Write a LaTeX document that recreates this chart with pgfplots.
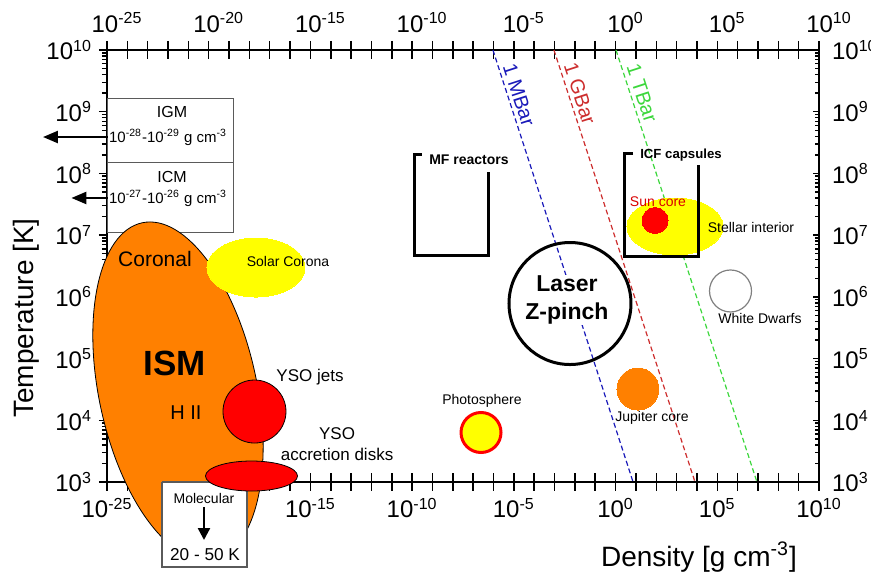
\documentclass[border=0pt]{standalone}
\usepackage{pgfplots}
\pgfplotsset{compat=1.18}
\usepackage{fontspec}
\setmainfont{Liberation Sans}
\setsansfont{Liberation Sans}
\usetikzlibrary{arrows.meta}

\definecolor{ismorange}{RGB}{255,128,0}
\definecolor{sunyellow}{RGB}{255,255,0}
\definecolor{hotred}{RGB}{255,0,0}
\definecolor{mbarblue}{RGB}{25,25,185}
\definecolor{gbarred}{RGB}{205,45,45}
\definecolor{tbargreen}{RGB}{60,215,60}
\definecolor{boxgray}{RGB}{90,90,90}

\newcommand\tp[1]{10\textsuperscript{#1}}
\newcommand\fs[1]{\fontsize{#1}{1.2\dimexpr#1pt\relax}\selectfont}

\pgfplotsset{
  densframe/.style={
    xmin=1e-25, xmax=1e10, ymin=1e3, ymax=1e10,
    scale only axis, width=356pt, height=216pt,
    at={(0,0)}, anchor=south west,
    axis line style={line width=0.8pt},
    tick style={black, line width=0.75pt},
    ticklabel style={font=\fs{12}},
  },
  xdec/.style={
    xtick={1e-25,1e-20,1e-15,1e-10,1e-5,1,1e5,1e10},
    xticklabels={\tp{-25},\tp{-20},\tp{-15},\tp{-10},\tp{-5},\tp{0},\tp{5},\tp{10}},
  },
  ydec/.style={
    ytick={1e3,1e4,1e5,1e6,1e7,1e8,1e9,1e10},
    yticklabels={\tp{3},\tp{4},\tp{5},\tp{6},\tp{7},\tp{8},\tp{9},\tp{10}},
  },
}

\begin{document}
\begin{tikzpicture}
\useasboundingbox (-53.5pt,-47.5pt) rectangle (382pt,241pt);

% frame with density ticks on both edges, labels below
\begin{axis}[xmode=log, ymode=log, densframe, xdec,
  minor xtick={1e-24,1e-23,1e-22,1e-21,1e-19,1e-18,1e-17,1e-16,1e-14,1e-13,1e-12,1e-11,
    1e-9,1e-8,1e-7,1e-6,1e-4,1e-3,1e-2,1e-1,1e1,1e2,1e3,1e4,1e6,1e7,1e8,1e9},
  ytick=\empty,
  xtick pos=both, xticklabel pos=left,
  tick align=center, major tick length=9pt, minor tick length=9pt,
]
\end{axis}

% density labels along the top
\begin{axis}[xmode=log, ymode=log, densframe, xdec, ytick=\empty,
  xtick pos=right, xticklabel pos=right,
  major tick length=0pt, axis line style={draw=none},
  xticklabel style={yshift=5pt, xshift=5pt},
]
\end{axis}

% temperature ticks, left
\begin{axis}[xmode=log, ymode=log, densframe, ydec, xtick=\empty,
  ytick pos=left, yticklabel pos=left,
  tick align=outside, major tick length=4pt, minor tick length=2.5pt,
  axis line style={draw=none},
]
\end{axis}

% temperature ticks, right
\begin{axis}[xmode=log, ymode=log, densframe, ydec, xtick=\empty,
  ytick pos=right, yticklabel pos=right,
  tick align=inside, major tick length=3pt, minor tick length=2pt,
  axis line style={draw=none},
  yticklabel style={xshift=3pt},
]
\end{axis}

% regimes in the density-temperature plane
\begin{axis}[xmode=log, ymode=log, densframe, hide axis, clip=false, clip marker paths=true]

% intergalactic and intracluster media
\addplot[draw=boxgray, line width=0.5pt, fill=white] coordinates
  {(1.12e-25,1.667e9) (1.75e-19,1.667e9) (1.75e-19,1.53e8) (1.12e-25,1.53e8) (1.12e-25,1.667e9)};
\addplot[draw=boxgray, line width=0.5pt, fill=white] coordinates
  {(1.12e-25,1.53e8) (1.75e-19,1.53e8) (1.75e-19,1.084e7) (1.12e-25,1.084e7) (1.12e-25,1.53e8)};
\addplot[black, line width=1.2pt, -{Triangle[length=7.5pt,width=6pt]}] coordinates
  {(1.3e-25,3.89e8) (7.14e-29,3.89e8)};
\addplot[black, line width=1.2pt, -{Triangle[length=7.5pt,width=6pt]}] coordinates
  {(1.3e-25,4.0e7) (1.78e-27,4.0e7)};
\node[font=\fs{8}] at (axis cs:1.58e-22,9.89e8) {IGM};
\node[font=\fs{7.5}, fill=white, inner sep=0.5pt] at (axis cs:1e-22,3.89e8)
  {\tp{-28}-\tp{-29} g cm\textsuperscript{-3}};
\node[font=\fs{8}] at (axis cs:1.58e-22,8.75e7) {ICM};
\node[font=\fs{7.5}, fill=white, inner sep=0.5pt] at (axis cs:1e-22,4.0e7)
  {\tp{-27}-\tp{-26} g cm\textsuperscript{-3}};

% isobars
\addplot[mbarblue, line width=0.6pt, dash pattern=on 2.5pt off 1.5pt] coordinates
  {(9.33e-7,1e10) (7.24,1e3)};
\addplot[gbarred, line width=0.6pt, dash pattern=on 2.5pt off 1.5pt] coordinates
  {(9.33e-4,1e10) (8035,1e3)};
\addplot[tbargreen, line width=0.6pt, dash pattern=on 2.5pt off 1.5pt] coordinates
  {(1.047,1e10) (8.91e6,1e3)};
\node[font=\fs{10}, text=mbarblue, rotate=-72, inner sep=0.5pt] at (axis cs:1.79e-5,1.87e9) {1 MBar};
\node[font=\fs{10}, text=gbarred, rotate=-72, fill=white, inner sep=0.5pt] at (axis cs:1.78e-2,1.94e9) {1 GBar};
\node[font=\fs{10}, text=tbargreen, rotate=-72, fill=white, inner sep=0.5pt] at (axis cs:19.9,2.01e9) {1 TBar};

% interstellar medium
\addplot[black, only marks, mark=*, mark size=1pt,
  mark options={draw=black, fill=ismorange, line width=0.4pt, rotate=12, xscale=39.5, yscale=86}]
  coordinates {(3.09e-22,2.98e4)};
% solar corona
\addplot[sunyellow, only marks, mark=*, mark size=1pt,
  mark options={draw=sunyellow, fill=sunyellow, line width=0pt, xscale=24.5, yscale=14.75}]
  coordinates {(2.11e-18,2.985e6)};

% molecular clouds
\addplot[draw=boxgray, line width=0.6pt, fill=white] coordinates
  {(5.01e-23,1000) (7.62e-19,1000) (7.62e-19,41.9) (5.01e-23,41.9) (5.01e-23,1000)};
\addplot[black, line width=1.2pt, -{Triangle[length=6pt,width=6pt]}] coordinates
  {(5.86e-21,392.6) (5.86e-21,114.8)};
\node[font=\fs{7}] at (axis cs:5.86e-21,550) {Molecular};
\node[font=\fs{8.6}] at (axis cs:6.61e-21,65.6) {20 - 50 K};

% young stellar objects
\addplot[black, only marks, mark=*, mark size=15.75pt,
  mark options={draw=black, fill=hotred, line width=0.4pt}]
  coordinates {(1.78e-18,1.387e4)};
\addplot[black, only marks, mark=*, mark size=1pt,
  mark options={draw=black, fill=hotred, line width=0.4pt, xscale=23, yscale=7.5}]
  coordinates {(1.27e-18,1.25e3)};

% photosphere, Jupiter, white dwarfs
\addplot[hotred, only marks, mark=*, mark size=10pt,
  mark options={draw=hotred, fill=sunyellow, line width=1.5pt}]
  coordinates {(2.43e-7,6.34e3)};
\addplot[ismorange, only marks, mark=*, mark size=10.5pt,
  mark options={draw=ismorange, fill=ismorange, line width=0pt}]
  coordinates {(12.6,3.21e4)};
\addplot[gray, only marks, mark=*, mark size=10.5pt,
  mark options={draw=gray, fill=white, line width=0.6pt}]
  coordinates {(4.47e5,1.245e6)};

% stellar interior and sun core
\addplot[sunyellow, only marks, mark=*, mark size=1pt,
  mark options={draw=sunyellow, fill=sunyellow, line width=0pt, xscale=24, yscale=14.25}]
  coordinates {(832,1.38e7)};
\addplot[hotred, only marks, mark=*, mark size=6.5pt,
  mark options={draw=hotred, fill=hotred, line width=0pt}]
  coordinates {(87.1,1.726e7)};

% laboratory plasmas
\addplot[black, line width=1.5pt] coordinates
  {(3.02e-10,1.99e8) (1.38e-10,1.99e8) (1.38e-10,4.76e6) (5.37e-7,4.76e6) (5.37e-7,1.054e8)};
\addplot[black, line width=1.5pt] coordinates
  {(7.24,2.14e8) (2.88,2.14e8) (2.88,4.43e6) (1.26e4,4.43e6) (1.26e4,1.37e8)};
\addplot[black, only marks, mark=o, mark size=30.5pt,
  mark options={draw=black, line width=1.5pt}]
  coordinates {(5.75e-3,7.80e5)};

% labels
\node[font=\fs{10.5}] at (axis cs:2.29e-23,4.10e6) {Coronal};
\node[font=\fs{17.5}\bfseries] at (axis cs:2.19e-22,8.47e4) {ISM};
\node[font=\fs{10}] at (axis cs:7.59e-22,1.31e4) {H II};
\node[font=\fs{7}] at (axis cs:7.94e-17,3.81e6) {Solar Corona};
\node[font=\fs{8.5}] at (axis cs:9.55e-16,5.02e4) {YSO jets};
\node[font=\fs{8.5}, align=center] at (axis cs:2.04e-14,4.12e3) {YSO\\accretion disks};
\node[font=\fs{7}] at (axis cs:2.72e-7,2.05e4) {Photosphere};
\node[font=\fs{11.5}\bfseries, align=center, fill=white, inner sep=0.5pt] at (axis cs:4.07e-3,8.89e5) {Laser\\Z-pinch};
\node[font=\fs{7}] at (axis cs:61.7,1.09e4) {Jupiter core};
\node[font=\fs{7}] at (axis cs:1.26e7,4.38e5) {White Dwarfs};
\node[font=\fs{7}] at (axis cs:4.54e6,1.306e7) {Stellar interior};
\node[font=\fs{7}, text=hotred!85!black] at (axis cs:121.6,3.44e7) {Sun core};
\node[font=\fs{6.6}\bfseries] at (axis cs:1644,1.99e8) {ICF capsules};
\node[font=\fs{7}\bfseries] at (axis cs:6.24e-8,1.65e8) {MF reactors};

% axis titles
\node[font=\fs{14}, rotate=90] at (axis cs:1.05e-29,4.54e5) {Temperature [K]};
\node[font=\fs{14}] at (axis cs:1.26e4,60.8) {Density [g cm\textsuperscript{-3}]};
\end{axis}
\end{tikzpicture}
\end{document}
